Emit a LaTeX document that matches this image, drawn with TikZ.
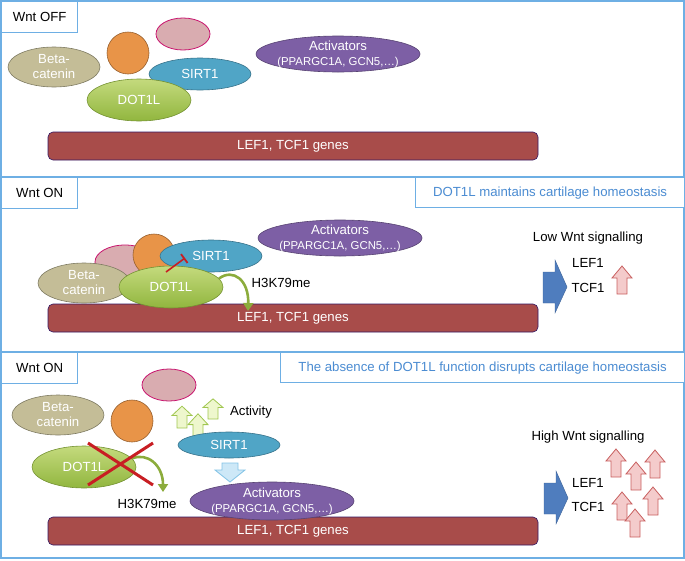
\documentclass[tikz,border=0pt]{standalone}
\usepackage{fontspec}
\setmainfont{Liberation Sans}
\usetikzlibrary{shapes.geometric,arrows.meta}

\definecolor{frameblue}{RGB}{110,175,228}
\definecolor{titleblue}{RGB}{75,140,210}
\definecolor{betacol}{RGB}{196,189,151}
\definecolor{orangecol}{RGB}{232,148,72}
\definecolor{pinkcol}{RGB}{217,172,176}
\definecolor{pinkedge}{RGB}{200,20,110}
\definecolor{sirtcol}{RGB}{80,165,198}
\definecolor{dotcol}{RGB}{145,182,62}
\definecolor{dottop}{RGB}{196,218,125}
\definecolor{actcol}{RGB}{125,95,165}
\definecolor{genecol}{RGB}{168,76,74}
\definecolor{arrowblue}{RGB}{79,125,190}
\definecolor{curvegreen}{RGB}{140,172,60}
\definecolor{upred}{RGB}{200,95,95}
\definecolor{upredfill}{RGB}{244,203,203}
\definecolor{upgreen}{RGB}{160,198,80}
\definecolor{upgreenfill}{RGB}{238,247,205}
\definecolor{downblue}{RGB}{130,195,230}
\definecolor{downbluefill}{RGB}{205,232,247}
\definecolor{crossred}{RGB}{200,30,35}

\newcommand{\actfont}{\fontsize{11.4}{13}\selectfont}

\tikzset{
  txt/.style={font=\fontsize{13.2}{15}\selectfont},
  panel/.style={draw=frameblue, line width=1.4pt},
  tag/.style={draw=frameblue, line width=1.4pt, fill=white, anchor=north west,
    minimum width=76, minimum height=31, txt},
  title/.style={draw=frameblue, line width=1.2pt, fill=white, anchor=north west,
    minimum height=30, text=titleblue, txt},
  prot/.style={ellipse, inner sep=0pt, text=white, txt, align=center, line width=0.6pt},
  beta/.style={prot, fill=betacol, draw=betacol!65!black, minimum width=92, minimum height=40},
  sirt/.style={prot, fill=sirtcol, draw=sirtcol!70!black, minimum width=102, minimum height=32},
  dot/.style={prot, top color=dottop, bottom color=dotcol, draw=dotcol!80!black,
    minimum width=104, minimum height=42},
  act/.style={prot, fill=actcol, draw=actcol!70!black, minimum width=164, minimum height=36},
  acttext/.style={txt, text=white, align=center, inner sep=0pt},
  pinkball/.style={ellipse, fill=pinkcol, draw=pinkedge, line width=0.8pt,
    minimum width=54, minimum height=32, inner sep=0pt},
  orangeball/.style={circle, fill=orangecol, draw=orangecol!65!black, line width=0.6pt,
    minimum size=42, inner sep=0pt},
  genebar/.style={rounded corners=5pt, fill=genecol, draw=genecol!50!blue!60!black,
    line width=0.6pt, minimum width=490, minimum height=28, text=white, txt},
  plain/.style={txt, inner sep=1pt},
  curve/.style={curvegreen, line width=2.6pt, -{Triangle[width=10pt,length=8pt]}},
  inhib/.style={crossred, line width=1.6pt, -{Bar[width=11pt,line width=1.8pt]}},
  cross/.style={crossred, line width=3pt},
  pics/uparr/.style={code={
    \path[pic actions] (-5,0) -- (-5,-16) -- (-10,-16) -- (0,-28) -- (10,-16) -- (5,-16) -- (5,0) -- cycle;}},
  pics/downarr/.style={code={
    \path[pic actions] (-8,0) -- (-8,7) -- (-15,7) -- (0,19) -- (15,7) -- (8,7) -- (8,0) -- cycle;}},
  pics/rarr/.style={code={
    \path[pic actions] (0,-15) -- (12,-15) -- (12,-27) -- (24,0) -- (12,26) -- (12,16) -- (0,16) -- cycle;}},
}

\begin{document}
\begin{tikzpicture}[x=1pt, y=-1pt]
  \useasboundingbox (0,0) rectangle (685,560);

  % Panel frames and headings
  \draw[panel] (1,1) rectangle (684,177);
  \draw[panel] (1,177) rectangle (684,352);
  \draw[panel] (1,352) rectangle (684,558);
  \node[tag] (tagoff) at (1,1) {Wnt OFF};
  \node[tag] (tagon) at (1,177) {Wnt ON};
  \node[tag] (tagko) at (1,352) {Wnt ON};
  \node[title, minimum width=269] (title2) at (415,177) {DOT1L maintains cartilage homeostasis};
  \node[title, minimum width=404] (title3) at (280,352) {The absence of DOT1L function disrupts cartilage homeostasis};

  % Wnt OFF
  \node[genebar] (genes1) at (293,146) {LEF1, TCF1 genes};
  \node[pinkball] (pink1) at (183,34) {};
  \node[orangeball] (orange1) at (128,53) {};
  \node[beta] (beta1) at (54,67) {Beta-\\catenin};
  \node[sirt] (sirt1) at (200,74) {SIRT1};
  \node[dot] (dot1) at (139,100) {DOT1L};
  \node[act] (act1) at (338,54) {};
  \node[acttext] (actlbl1) at (act1) {Activators\\{\actfont(PPARGC1A, GCN5,…)}};

  % Wnt ON, DOT1L present
  \node[genebar] (genes2) at (293,318) {LEF1, TCF1 genes};
  \node[pinkball, minimum width=60, minimum height=34] (pink2) at (125,262) {};
  \node[orangeball] (orange2) at (154,255) {};
  \node[sirt] (sirt2) at (211,256) {SIRT1};
  \node[beta] (beta2) at (84,283) {Beta-\\catenin};
  \node[dot] (dot2) at (171,287) {DOT1L};
  \node[act] (act2) at (340,238) {};
  \node[acttext] (actlbl2) at (act2) {Activators\\{\actfont(PPARGC1A, GCN5,…)}};
  \draw[inhib] ([shift={(-5,-15)}]dot2.center) -- ([shift={(-26,2)}]sirt2.center);
  \coordinate (meth2) at (248,311);
  \draw[curve] (dot2.10) .. controls (233,268) and (249,280) .. (meth2);
  \node[plain] (h3k2) at (281,283) {H3K79me};
  \node[plain] (low) at (588,238) {Low Wnt signalling};
  \pic[draw=arrowblue!80!black, fill=arrowblue, line width=0.4pt] (out2) at (543,287) {rarr};
  \node[plain] (lef2) at (588,263) {LEF1};
  \node[plain] (tcf2) at (588,288) {TCF1};
  \pic[draw=upred, fill=upredfill, line width=0.8pt] (up2) at (622,294) {uparr};

  % Wnt ON, DOT1L lost
  \node[genebar] (genes3) at (293,531) {LEF1, TCF1 genes};
  \node[pinkball] (pink3) at (169,385) {};
  \node[beta] (beta3) at (58,415) {Beta-\\catenin};
  \node[orangeball] (orange3) at (132,421) {};
  \pic[draw=upgreen, fill=upgreenfill, line width=0.8pt, yscale=0.78] (actup1) at (182,428) {uparr};
  \pic[draw=upgreen, fill=upgreenfill, line width=0.8pt, yscale=0.72] (actup3) at (213,419) {uparr};
  \pic[draw=upgreen, fill=upgreenfill, line width=0.8pt, yscale=0.9] (actup2) at (198,439) {uparr};
  \node[plain] (activity) at (251,412) {Activity};
  \node[sirt, minimum height=26] (sirt3) at (229,445) {SIRT1};
  \pic[draw=downblue, fill=downbluefill, line width=0.8pt] (down3) at (230,463) {downarr};
  \node[dot] (dot3) at (84,467) {DOT1L};
  \coordinate (meth3) at (163,492);
  \draw[curve] (dot3.10) .. controls (147,452) and (163,465) .. (meth3);
  \draw[cross] ([shift={(4,-24)}]dot3.center) -- ([shift={(69,18)}]dot3.center);
  \draw[cross] ([shift={(4,18)}]dot3.center) -- ([shift={(69,-24)}]dot3.center);
  \node[plain] (h3k3) at (147,504) {H3K79me};
  \node[act, minimum height=38] (act3) at (272,501) {};
  \node[acttext] (actlbl3) at (act3) {Activators\\{\actfont(PPARGC1A, GCN5,…)}};
  \node[plain] (high) at (588,437) {High Wnt signalling};
  \pic[draw=arrowblue!80!black, fill=arrowblue, line width=0.4pt] (out3) at (544,498) {rarr};
  \node[plain] (lef3) at (588,483) {LEF1};
  \node[plain] (tcf3) at (588,507) {TCF1};
  \foreach \ux/\uy [count=\i] in {616/477, 636/490, 655/478, 622/520, 653/515, 635/537}
    \pic[draw=upred, fill=upredfill, line width=0.8pt] (up3\i) at (\ux,\uy) {uparr};
\end{tikzpicture}
\end{document}
